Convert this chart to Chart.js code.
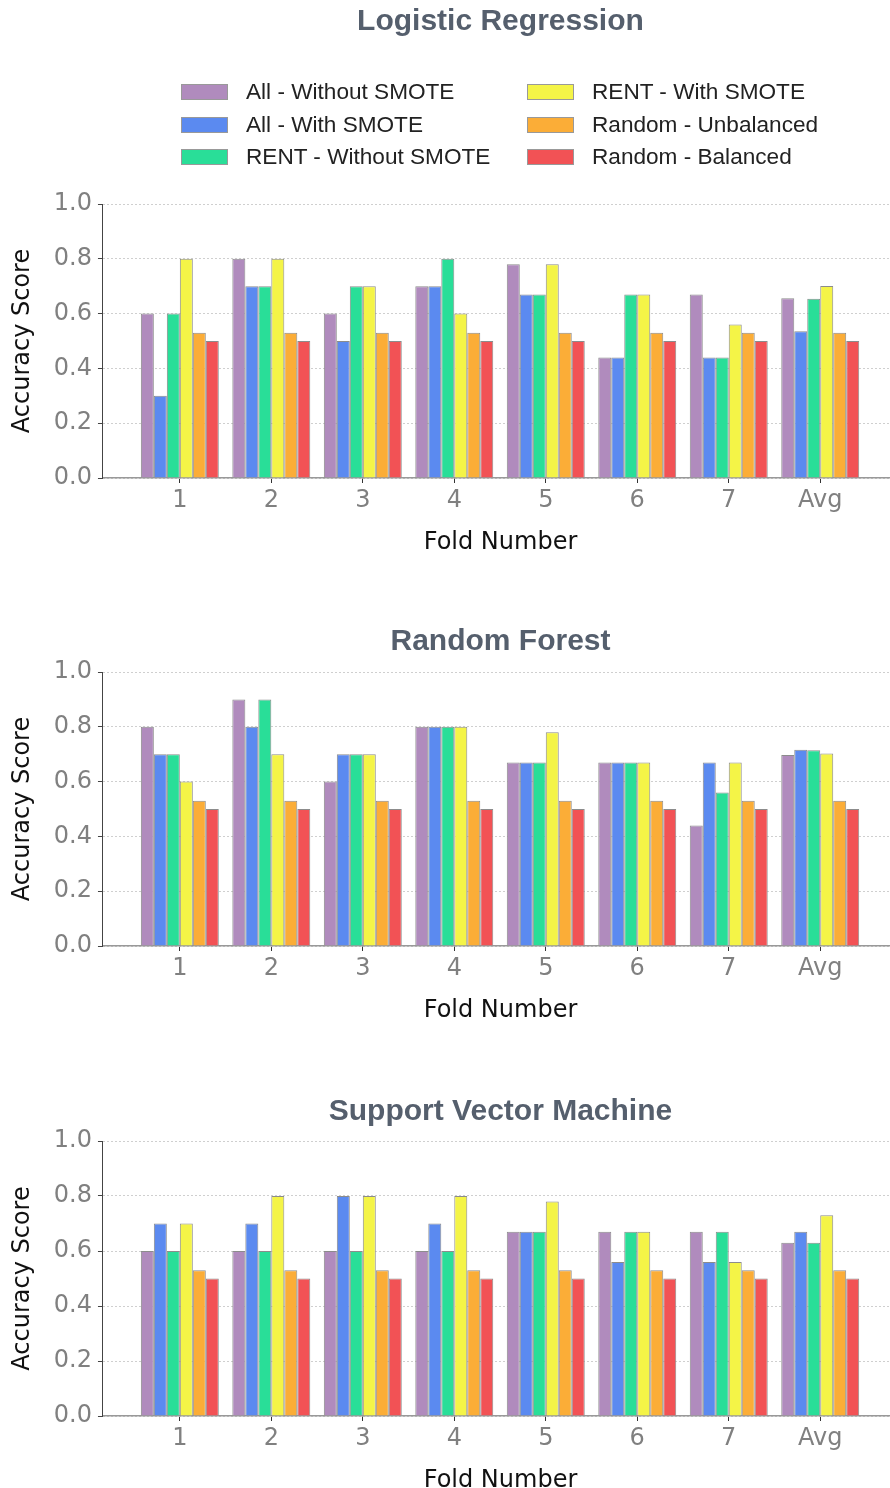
<!DOCTYPE html>
<html>
<head>
<meta charset="utf-8">
<script src="https://cdn.jsdelivr.net/npm/chart.js@4.4.1/dist/chart.umd.min.js"></script>
<style>
    html, body { margin: 0; padding: 0; background: #fff; overflow: hidden; }
    body { width: 890px; height: 1488px; position: relative; }
    /* plot runs a little past the right edge, as in the original figure */
    .box { position: absolute; left: 0; width: 898px; }
    #legend {
        position: absolute; left: 0; top: 0; width: 890px; height: 190px;
        font-family: "Liberation Sans", Arial, sans-serif; font-size: 22.6px; color: #222;
    }
    .item { position: absolute; display: flex; align-items: center; height: 32px; white-space: nowrap; }
    .sw { width: 45px; height: 14px; border: 1px solid #999; margin-right: 18px; }
</style>
</head>
<body>
<div class="box" style="top:0;height:570px"><canvas id="c1"></canvas></div>
<div class="box" style="top:600px;height:440px"><canvas id="c2"></canvas></div>
<div class="box" style="top:1070px;height:440px"><canvas id="c3"></canvas></div>
<div id="legend"></div>

<script>
// Fold labels on the x axis
const folds = ['1', '2', '3', '4', '5', '6', '7', 'Avg'];

const seriesNames = [
    'All - Without SMOTE',
    'All - With SMOTE',
    'RENT - Without SMOTE',
    'RENT - With SMOTE',
    'Random - Unbalanced',
    'Random - Balanced'
];
const seriesColors = ['#b08bbd', '#5b8af0', '#29de98', '#f4f447', '#fbad37', '#f25255'];

// one row per series, one value per fold
const logisticScores = [
    [0.6, 0.8, 0.6, 0.7, 0.78, 0.44, 0.67, 0.656],
    [0.3, 0.7, 0.5, 0.7, 0.67, 0.44, 0.44, 0.536],
    [0.6, 0.7, 0.7, 0.8, 0.67, 0.67, 0.44, 0.654],
    [0.8, 0.8, 0.7, 0.6, 0.78, 0.67, 0.56, 0.701],
    [0.53, 0.53, 0.53, 0.53, 0.53, 0.53, 0.53, 0.53],
    [0.5, 0.5, 0.5, 0.5, 0.5, 0.5, 0.5, 0.5]
];
const forestScores = [
    [0.8, 0.9, 0.6, 0.8, 0.67, 0.67, 0.44, 0.697],
    [0.7, 0.8, 0.7, 0.8, 0.67, 0.67, 0.67, 0.716],
    [0.7, 0.9, 0.7, 0.8, 0.67, 0.67, 0.56, 0.714],
    [0.6, 0.7, 0.7, 0.8, 0.78, 0.67, 0.67, 0.703],
    [0.53, 0.53, 0.53, 0.53, 0.53, 0.53, 0.53, 0.53],
    [0.5, 0.5, 0.5, 0.5, 0.5, 0.5, 0.5, 0.5]
];
const svmScores = [
    [0.6, 0.6, 0.6, 0.6, 0.67, 0.67, 0.67, 0.63],
    [0.7, 0.7, 0.8, 0.7, 0.67, 0.56, 0.56, 0.67],
    [0.6, 0.6, 0.6, 0.6, 0.67, 0.67, 0.67, 0.63],
    [0.7, 0.8, 0.8, 0.8, 0.78, 0.67, 0.56, 0.73],
    [0.53, 0.53, 0.53, 0.53, 0.53, 0.53, 0.53, 0.53],
    [0.5, 0.5, 0.5, 0.5, 0.5, 0.5, 0.5, 0.5]
];

const tickFont = { family: 'DejaVu Sans', size: 24 };

function makeChart(id, title, scores, titlePad, bottomPad) {
    const datasets = scores.map((vals, s) => ({
        label: seriesNames[s],
        data: vals.map((v, i) => ({ x: i, y: v })),
        backgroundColor: seriesColors[s],
        borderColor: '#8c8c8c',
        borderWidth: 1,
        categoryPercentage: 0.852,
        barPercentage: 1
    }));

    return new Chart(document.getElementById(id), {
        type: 'bar',
        data: { datasets: datasets },
        options: {
            responsive: true,
            maintainAspectRatio: false,
            animation: false,
            layout: { padding: { left: 4, right: 0, top: 0, bottom: bottomPad } },
            scales: {
                x: {
                    type: 'linear',
                    min: -0.84,
                    max: 7.85,
                    offset: false,
                    afterBuildTicks: scale => {
                        scale.ticks = folds.map((f, i) => ({ value: i }));
                    },
                    ticks: {
                        callback: (v, i) => folds[i],
                        color: '#808080',
                        font: tickFont,
                        padding: 3,
                        maxRotation: 0,
                        autoSkip: false
                    },
                    grid: { offset: false, drawOnChartArea: false, drawTicks: true, tickLength: 5, tickColor: '#333' },
                    border: { color: '#999', width: 1.5 },
                    title: {
                        display: true,
                        text: 'Fold Number',
                        color: '#111',
                        font: tickFont,
                        padding: { top: 11, bottom: 4 }
                    }
                },
                y: {
                    min: 0,
                    max: 1,
                    ticks: {
                        stepSize: 0.1,
                        callback: v => (Math.round(v * 10) % 2 === 0 ? v.toFixed(1) : ''),
                        color: '#808080',
                        font: tickFont,
                        padding: 6
                    },
                    grid: { color: '#cfcfcf', tickColor: '#444', tickLength: 5 },
                    border: { color: '#444', width: 1, dash: [2, 2] },
                    title: {
                        display: true,
                        text: 'Accuracy Score',
                        color: '#111',
                        font: tickFont,
                        padding: { top: 4, bottom: 11 }
                    }
                }
            },
            plugins: {
                legend: { display: false },
                tooltip: { enabled: false },
                title: {
                    display: true,
                    text: title,
                    fullSize: false,
                    color: '#555f6d',
                    font: { family: 'Liberation Sans', weight: 'bold', size: 30 },
                    padding: titlePad
                }
            }
        }
    });
}

makeChart('c1', 'Logistic Regression', logisticScores, { top: 4, bottom: 164 }, 8.4);
makeChart('c2', 'Random Forest', forestScores, { top: 24, bottom: 12 }, 10.4);
makeChart('c3', 'Support Vector Machine', svmScores, { top: 24, bottom: 11 }, 10.4);

// Legend in two columns, filled top to bottom
const legend = document.getElementById('legend');
const rowCenters = [92, 125, 157];
const colLefts = [181, 527];
seriesNames.forEach((name, i) => {
    const item = document.createElement('div');
    item.className = 'item';
    item.style.left = colLefts[Math.floor(i / 3)] + 'px';
    item.style.top = (rowCenters[i % 3] - 16) + 'px';
    item.innerHTML = '<div class="sw" style="background:' + seriesColors[i] + '"></div><span>' + name + '</span>';
    legend.appendChild(item);
});
</script>
</body>
</html>
